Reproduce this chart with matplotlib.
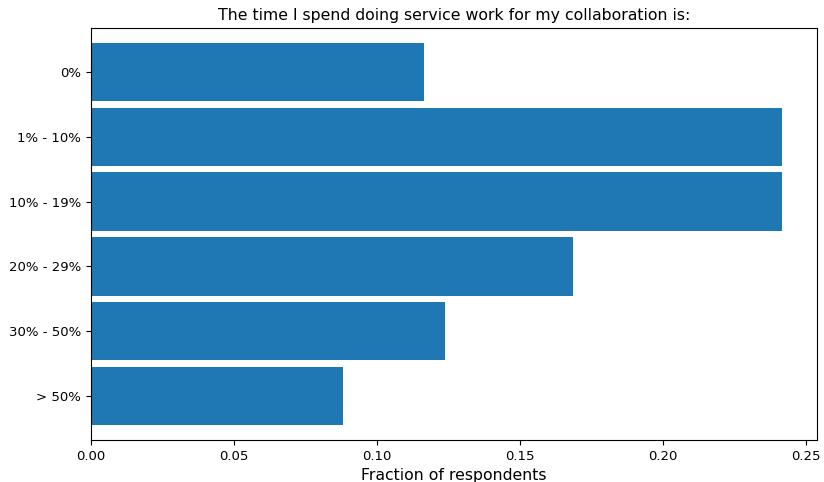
import matplotlib
matplotlib.use("Agg")
import matplotlib.pyplot as plt

# answer categories (top to bottom) and fraction of respondents
categories = ["0%", "1% - 10%", "10% - 19%", "20% - 29%", "30% - 50%", "> 50%"]
fractions = [0.1166, 0.2419, 0.2419, 0.1688, 0.1239, 0.0882]

fig, ax = plt.subplots(figsize=(8.24, 4.82), dpi=100)
fig.subplots_adjust(left=0.1105, right=0.9915, top=0.942, bottom=0.087)

ax.barh(range(len(categories)), fractions, height=0.9, color="#1f77b4")
ax.set_yticks(range(len(categories)))
ax.set_yticklabels(categories)
ax.set_ylim(5.68, -0.68)
ax.tick_params(labelsize=9.5)

ax.set_xlabel("Fraction of respondents", fontsize=11.3)
ax.set_title("The time I spend doing service work for my collaboration is:", fontsize=11.3)

plt.savefig("out.png")
